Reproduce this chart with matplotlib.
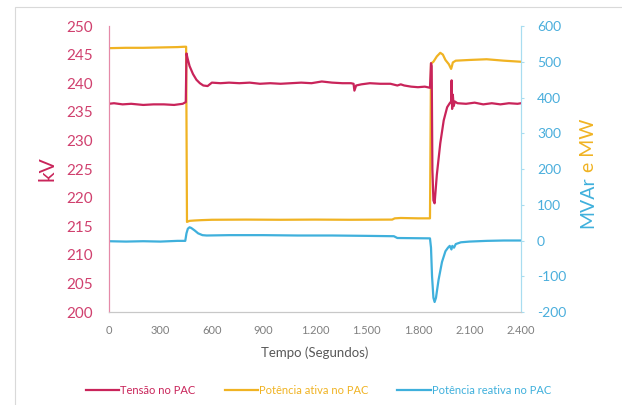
import numpy as np
import matplotlib.pyplot as plt
from matplotlib.patches import Rectangle

plt.rcParams['font.family'] = ['Lato', 'DejaVu Sans']
plt.rcParams['axes.unicode_minus'] = False

# Tensao no PAC (kV)
t_v = [0, 30, 80, 130, 200, 260, 320, 380, 430, 448, 452, 458, 470, 490, 510,
       530, 550, 575, 600, 650, 700, 760, 820, 880, 940, 1000, 1060, 1120,
       1180, 1240, 1300, 1360, 1410, 1425, 1430, 1440, 1470, 1520, 1580, 1640,
       1680, 1700, 1720, 1760, 1800, 1840, 1870, 1876, 1880, 1884, 1890, 1897,
       1910, 1930, 1950, 1970, 1985, 1993, 1996, 1999, 2003, 2008, 2015, 2030,
       2080, 2130, 2180, 2230, 2280, 2330, 2380, 2400]
tensao = [236.4, 236.5, 236.3, 236.4, 236.2, 236.3, 236.3, 236.2, 236.4, 236.7,
          245.2, 244.4, 243.0, 241.6, 240.6, 240.0, 239.6, 239.5, 240.1, 240.0,
          240.1, 240.0, 240.1, 239.9, 240.0, 239.9, 240.0, 240.1, 240.0, 240.3,
          240.1, 240.0, 240.0, 239.9, 238.7, 239.6, 239.8, 240.0, 239.9, 239.9,
          239.6, 239.8, 239.6, 239.4, 239.3, 239.4, 239.2, 243.5, 243.0, 225.0,
          219.5, 219.0, 224.0, 229.5, 233.5, 235.8, 236.5, 236.8, 240.5, 235.5,
          238.0, 236.0, 236.8, 236.5, 236.4, 236.6, 236.3, 236.5, 236.3, 236.5,
          236.4, 236.5]

# Potencia ativa no PAC (MW)
t_p = [0, 100, 200, 300, 400, 440, 450, 455, 470, 500, 540, 600, 800, 1000,
       1200, 1400, 1650, 1665, 1700, 1800, 1870, 1876, 1890, 1910, 1930, 1945,
       1960, 1980, 1993, 1998, 2003, 2020, 2100, 2200, 2300, 2400]
ativa = [538, 539, 539, 540, 541, 542, 542, 52, 55, 56, 57, 58, 58.5, 58,
         58.5, 58, 58.5, 62, 63, 62, 62, 495, 500, 515, 525, 520, 505, 493,
         480, 488, 498, 503, 505, 507, 503, 500]

# Potencia reativa no PAC (MVAr)
t_q = [0, 100, 200, 300, 400, 445, 452, 460, 470, 480, 500, 520, 545, 570,
       700, 900, 1100, 1300, 1500, 1660, 1680, 1870, 1876, 1882, 1890, 1897,
       1905, 1920, 1940, 1960, 1975, 1985, 1995, 2000, 2010, 2020, 2050, 2100,
       2200, 2300, 2400]
reativa = [-2, -3, -2, -3, -1, -1, 20, 33, 37, 35, 28, 20, 15, 14, 15, 15, 14,
           14, 13, 12, 7, 6, -20, -100, -160, -172, -160, -110, -60, -30, -20,
           -15, -25, -15, -20, -10, -5, -3, -1, 0, 0]

red = '#C9245A'
yellow = '#F0B323'
blue = '#3FB0DC'
gray = '#7F7F7F'

fig = plt.figure(figsize=(6.22, 4.05), dpi=100)
fig.patches.append(Rectangle((15 / 622, -0.02), 1.0, 1 - 7 / 405 + 0.02,
                             transform=fig.transFigure, fill=False,
                             edgecolor='#D9D9D9', linewidth=0.8))

ax = fig.add_axes([0.175, 0.2296, 0.6626, 0.7062])
ax2 = ax.twinx()

ax2.plot(t_p, ativa, color=yellow, lw=1.6, label='Potência ativa no PAC')
ax2.plot(t_q, reativa, color=blue, lw=1.6, label='Potência reativa no PAC')
ax.plot(t_v, tensao, color=red, lw=1.6, label='Tensão no PAC')
ax.set_zorder(ax2.get_zorder() + 1)
ax.patch.set_visible(False)

ax.set_xlim(0, 2400)
ax.set_ylim(200, 250)
ax2.set_ylim(-200, 600)
ax.set_xticks(np.arange(0, 2401, 300))
ax.set_xticklabels(['0', '300', '600', '900', '1.200', '1.500', '1.800',
                    '2.100', '2.400'])
ax.set_yticks(np.arange(200, 251, 5))
ax2.set_yticks(np.arange(-200, 601, 100))

ax.tick_params(axis='x', colors=gray, labelsize=8, length=0, pad=9)
ax.tick_params(axis='y', colors=red, labelsize=11, length=0, pad=11.5)
ax2.tick_params(axis='y', colors=blue, labelsize=10, length=2.5, pad=9)
ax.tick_params(axis='y', labelcolor='#D0406E')
ax2.tick_params(axis='y', labelcolor='#4AAEDC', color='#A8DDF0')

for a in (ax, ax2):
    a.spines['top'].set_visible(False)
    a.spines['left'].set_color('#E58AA8')
    a.spines['right'].set_color('#A8DDF0')
    a.spines['bottom'].set_color('#C8C8C8')

ax.set_xlabel('Tempo (Segundos)', color='#595959', fontsize=9.5, labelpad=8)
ax.set_ylabel('kV', color=red, fontsize=15, labelpad=6)

# two-coloured right axis title
x_title = 588 / 622
t1 = fig.text(x_title, 1 - 228 / 405, 'MVAr', color=blue, fontsize=14,
              rotation=90, ha='center', va='bottom')
fig.canvas.draw()
top = t1.get_window_extent().transformed(fig.transFigure.inverted()).y1
fig.text(x_title, top + 0.01, 'e MW', color=yellow, fontsize=14,
         rotation=90, ha='center', va='bottom')

h1, l1 = ax.get_legend_handles_labels()
h2, l2 = ax2.get_legend_handles_labels()
fig.legend(h1 + h2, l1 + l2, loc='center', bbox_to_anchor=(0.512, 0.035),
           ncol=3, frameon=False, fontsize=8, labelcolor='linecolor',
           handlelength=3, handletextpad=0.1, columnspacing=2.6)

fig.savefig('out.png', dpi=100)
